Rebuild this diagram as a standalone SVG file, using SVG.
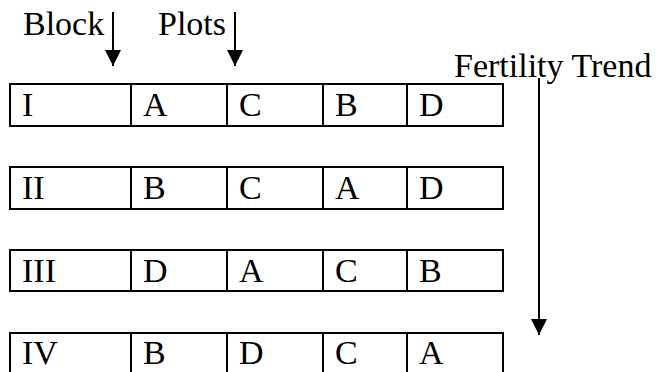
<svg xmlns="http://www.w3.org/2000/svg" width="660" height="372" viewBox="0 0 660 372">
  <defs>
    <marker id="head" viewBox="0 0 16 16" refX="16" refY="8" markerWidth="16" markerHeight="16" markerUnits="userSpaceOnUse" orient="auto">
      <path d="M0,0 L16,8 L0,16 Z" fill="#000"/>
    </marker>
    <style>
      text { font-size: 34px; fill: #000; }
      .cell { fill: #fff; stroke: #000; stroke-width: 2; }
      .conn line { stroke: #000; stroke-width: 2; }
    </style>
  </defs>
  <rect width="660" height="372" fill="#fff"/>

  <g font-family="'Liberation Serif', 'Times New Roman', serif">
  <!-- labels -->
  <g id="label-block"><text x="23" y="35">Block</text></g>
  <g id="label-plots"><text x="158" y="35">Plots</text></g>
  <g id="label-trend"><text x="454" y="77">Fertility Trend</text></g>

  <!-- block rows: columns at 10,131,227,323,407,503 -->
  <g id="block-1">
    <rect class="cell" x="10" y="84" width="121" height="42"/>
    <rect class="cell" x="131" y="84" width="96" height="42"/>
    <rect class="cell" x="227" y="84" width="96" height="42"/>
    <rect class="cell" x="323" y="84" width="84" height="42"/>
    <rect class="cell" x="407" y="84" width="96" height="42"/>
    <text x="22" y="116">I</text>
    <text x="143" y="116">A</text>
    <text x="239" y="116">C</text>
    <text x="335" y="116">B</text>
    <text x="419" y="116">D</text>
  </g>
  <g id="block-2">
    <rect class="cell" x="10" y="167" width="121" height="42"/>
    <rect class="cell" x="131" y="167" width="96" height="42"/>
    <rect class="cell" x="227" y="167" width="96" height="42"/>
    <rect class="cell" x="323" y="167" width="84" height="42"/>
    <rect class="cell" x="407" y="167" width="96" height="42"/>
    <text x="22" y="199">II</text>
    <text x="143" y="199">B</text>
    <text x="239" y="199">C</text>
    <text x="335" y="199">A</text>
    <text x="419" y="199">D</text>
  </g>
  <g id="block-3">
    <rect class="cell" x="10" y="250" width="121" height="41"/>
    <rect class="cell" x="131" y="250" width="96" height="41"/>
    <rect class="cell" x="227" y="250" width="96" height="41"/>
    <rect class="cell" x="323" y="250" width="84" height="41"/>
    <rect class="cell" x="407" y="250" width="96" height="41"/>
    <text x="22" y="282">III</text>
    <text x="143" y="282">D</text>
    <text x="239" y="282">A</text>
    <text x="335" y="282">C</text>
    <text x="419" y="282">B</text>
  </g>
  <g id="block-4">
    <rect class="cell" x="10" y="333" width="121" height="42"/>
    <rect class="cell" x="131" y="333" width="96" height="42"/>
    <rect class="cell" x="227" y="333" width="96" height="42"/>
    <rect class="cell" x="323" y="333" width="84" height="42"/>
    <rect class="cell" x="407" y="333" width="96" height="42"/>
    <text x="22" y="364">IV</text>
    <text x="143" y="364">B</text>
    <text x="239" y="364">D</text>
    <text x="335" y="364">C</text>
    <text x="419" y="364">A</text>
  </g>
  </g>

  <!-- arrows -->
  <g class="conn" id="connectors">
    <line x1="113" y1="12" x2="113" y2="66" marker-end="url(#head)"/>
    <line x1="235" y1="12" x2="235" y2="66" marker-end="url(#head)"/>
    <line x1="539" y1="78" x2="539" y2="335" marker-end="url(#head)"/>
  </g>
</svg>
